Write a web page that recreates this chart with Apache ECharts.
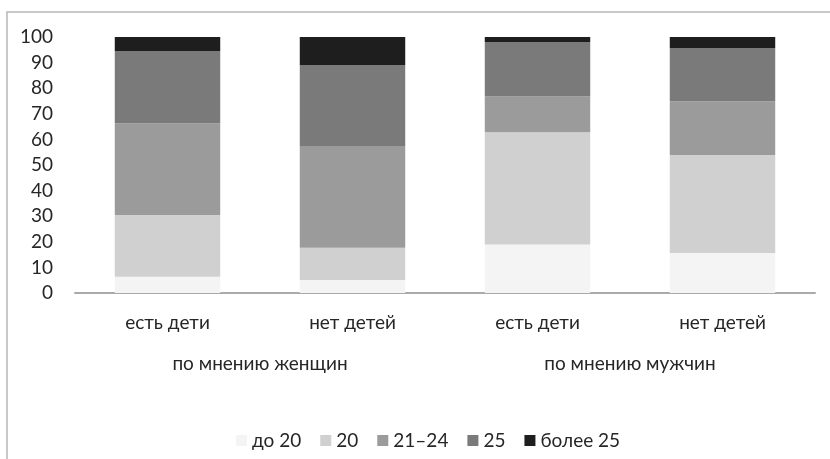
<!DOCTYPE html>
<html>
<head>
<meta charset="utf-8">
<script src="https://cdn.jsdelivr.net/npm/echarts@6/dist/echarts.min.js"></script>
<style>
html, body { margin: 0; padding: 0; background: #fff; }
#chart { width: 830px; height: 459px; }
</style>
</head>
<body>
<div id="chart"></div>
<script>
// подписи категорий
const categories = ['есть дети', 'нет детей', 'есть дети', 'нет детей']
const groups = ['по мнению женщин', 'по мнению мужчин']
const seriesNames = ['до 20', '20', '21–24', '25', 'более 25']
const seriesColors = ['#f4f4f4', '#d0d0d0', '#9b9b9b', '#7a7a7a', '#1e1e1e']

// доли, %
const under20 = [6.3, 5.1, 18.9, 15.6]
const age20 = [24.2, 12.6, 43.9, 38.3]
const age21to24 = [35.8, 39.7, 14.0, 21.0]
const age25 = [28.1, 31.7, 21.2, 20.7]
const over25 = [5.6, 10.9, 2.0, 4.4]
const values = [under20, age20, age21to24, age25, over25]

const font = 'Lato, "Open Sans", sans-serif'
const textColor = '#262626'
const fontSize = 19

const chart = echarts.init(document.getElementById('chart'))
const option = {
	animation: false,
	textStyle: { fontFamily: font },
	graphic: [{
		type: 'rect',
		shape: { x: 7, y: 12, width: 900, height: 600 },
		style: { fill: 'none', stroke: '#b8b8b8', lineWidth: 1.5 },
		silent: true
	}],
	legend: {
		top: 426,
		left: 231,
		itemWidth: 11,
		itemHeight: 11,
		itemGap: 19,
		icon: 'rect',
		textStyle: { fontSize: fontSize, color: textColor, fontFamily: font },
		data: seriesNames
	},
	grid: { left: 75, right: 15, top: 37, bottom: 166 },
	xAxis: [{
		type: 'category',
		data: categories,
		axisLine: { lineStyle: { color: '#aaaaaa', width: 2 } },
		axisTick: { show: false },
		axisLabel: { fontSize: fontSize, color: textColor, margin: 20, fontFamily: font }
	}, {
		type: 'category',
		data: groups,
		position: 'bottom',
		offset: 50,
		axisLine: { show: false },
		axisTick: { show: false },
		axisLabel: { fontSize: fontSize, color: textColor, margin: 11, fontFamily: font }
	}],
	yAxis: {
		type: 'value',
		min: 0,
		max: 100,
		interval: 10,
		axisLine: { show: false },
		axisTick: { show: false },
		splitLine: { show: false },
		axisLabel: { fontSize: fontSize, color: textColor, margin: 22, fontFamily: font }
	},
	series: seriesNames.map((name, i) => ({
		name: name,
		type: 'bar',
		stack: 'total',
		barWidth: '57%',
		xAxisIndex: 0,
		itemStyle: { color: seriesColors[i] },
		data: values[i]
	}))
}
chart.setOption(option)
</script>
</body>
</html>
